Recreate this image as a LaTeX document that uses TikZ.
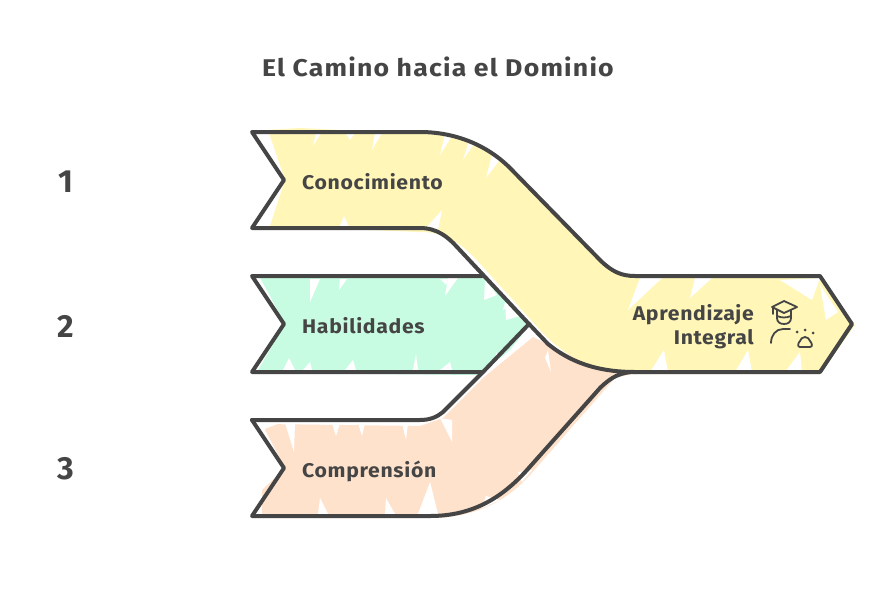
\documentclass[tikz,border=0pt]{standalone}
\usepackage{fontspec}
\setmainfont{Fira Sans}
\newfontfamily\handfont[FakeStretch=1.07,LetterSpace=3.5]{Fira Sans}
\newfontfamily\titlefont[FakeStretch=1.1,LetterSpace=5]{Fira Sans}
\definecolor{ink}{HTML}{454545}
\definecolor{yel}{HTML}{FFF6B8}
\definecolor{grn}{HTML}{C8FCE2}
\definecolor{pch}{HTML}{FFE2CC}
\tikzset{
 outline/.style={draw=ink,line width=4pt,line join=round,line cap=round},
 iconline/.style={draw=ink,line width=1.8pt,line join=round,line cap=round},
 lab/.style={text=ink,font=\handfont\bfseries\fontsize{19.8}{24}\selectfont,inner sep=0pt,anchor=west},
 num/.style={text=ink,font=\bfseries\fontsize{32}{32}\selectfont,inner sep=0pt},
}
\begin{document}
\begin{tikzpicture}[x=1pt,y=-1pt]
\useasboundingbox[fill=white] (0,0) rectangle (877,600);
% hachure-like fills
\fill[pch] (262,424) -- (285,468) -- (262,490) -- (262,516) -- (430,518) .. controls (480,518) and (510,497) .. (530,475) -- (600,395) -- (615,378) -- (640,372) -- (600,365) .. controls (570,358) and (550,345) .. (533,337) -- (483,378) -- (443,418) -- (420,426) -- cycle;
\fill[grn] (258,274) -- (285,324) -- (258,370) -- (258,373) -- (480,375) -- (510,350) -- (529,326) -- (483,277) -- cycle;
\fill[yel] (268,130) -- (300,128) -- (420,134) .. controls (450,134) and (475,140) .. (495,155) -- (600,262) .. controls (612,273) and (622,277) .. (635,278) -- (820,278) -- (855,325) -- (820,374) -- (635,374) .. controls (600,372) and (570,362) .. (540,330) -- (475,258) .. controls (455,238) and (440,232) .. (420,232) -- (270,226) -- (285,180) -- cycle;
% white slivers left by the strokes of the fill
\foreach \a/\b/\c/\d/\e/\f in {
 316/133/313/146/321/133, 375/133/382/133/372/150, 445/134/452/136/440/155,
 470/138/476/141/463/160, 492/155/499/161/486/178, 340/226/350/229/344/216,
 425/229/438/230/442/210, 455/244/460/252/452/258,
 640/278/662/278/628/310, 695/278/712/278/690/298, 780/280/820/278/812/300,
 820/285/838/312/826/320, 650/372/668/372/664/350, 735/372/752/372/748/350,
 785/372/802/372/800/352, 507/295/515/302/503/310, 345/132/355/133/350/140}
 {\fill[white] (\a,\b) -- (\c,\d) -- (\e,\f) -- cycle;}
\foreach \a/\b/\c/\d/\e/\f in {
 310/279/320/279/310/302, 340/279/347/279/339/290, 440/279/448/279/446/285,
 448/278/458/278/445/296, 485/280/497/295/484/300, 505/300/520/316/506/320,
 283/370/295/370/289/358, 303/370/312/370/310/362, 345/370/356/370/353/360,
 413/370/418/370/416/354, 440/370/452/370/450/362, 490/370/500/362/497/352,
 253/288/268/292/268/308}
 {\fill[white] (\a,\b) -- (\c,\d) -- (\e,\f) -- cycle;}
\foreach \a/\b/\c/\d/\e/\f in {
 285/423/295/423/294/452, 332/423/340/423/336/436, 358/423/365/423/362/436,
 402/423/408/423/406/440, 440/418/452/420/452/442, 258/423/280/423/262/430,
 318/514/328/514/320/498, 418/514/438/514/430/482, 385/514/395/514/386/498,
 545/358/548/350/551/372, 520/338/526/338/516/348,
 482/508/500/500/486/496, 522/482/532/470/518/472}
 {\fill[white] (\a,\b) -- (\c,\d) -- (\e,\f) -- cycle;}
% outlines
\draw[outline] (252,420) -- (420,420) .. controls (430,420) and (437,417) .. (443,412) -- (483,372) -- (529,324);
\draw[outline] (482,276) -- (252,276) -- (284,324) -- (252,372) -- (482,372);
\draw[outline] (252,420) -- (284,468) -- (252,516) -- (430,516) .. controls (470,516) and (500,500) .. (527,470) -- (600,388) .. controls (612,376) and (622,372) .. (635,372);
\draw[outline] (635,372) -- (820,372) -- (852,324) -- (820,276) -- (635,276) .. controls (622,276) and (612,272) .. (600,260) -- (510,168) .. controls (487,145) and (455,132) .. (420,132) -- (252,132) -- (284,180) -- (252,228) -- (420,228) .. controls (437,228) and (448,237) .. (457,247) -- (529,324) -- (548,344) .. controls (575,366) and (605,372) .. (635,372);
% icon: graduate
\draw[iconline] (772,307) -- (784,301) -- (797,307) -- (784,313) -- cycle;
\draw[iconline] (773,307) -- (773,314);
\draw[iconline] (777,310) -- (777,318) .. controls (777,322) and (780,324) .. (784,324) .. controls (788,324) and (791,322) .. (791,318) -- (791,310);
\draw[iconline] (777,316) .. controls (782,318) and (786,318) .. (791,316);
\draw[iconline] (771,343) .. controls (771,335) and (776,329) .. (783,329) -- (790,329);
% icon: paw
\fill[ink] (797,332) circle (1.5) (805,330) circle (1.5) (813,333) circle (1.5);
\draw[iconline] (805,337) .. controls (802,337) and (801,339) .. (800,341) .. controls (798,343) and (797,347) .. (800,347) -- (810,347) .. controls (813,347) and (812,343) .. (810,341) .. controls (809,339) and (808,337) .. (805,337) -- cycle;
% texts
\node[text=ink,font=\titlefont\bfseries\fontsize{24.2}{28}\selectfont,inner sep=0pt] (title) at (438,67) {El Camino hacia el Dominio};
\node[num] (n1) at (66,182) {1};
\node[num] (n2) at (66,326) {2};
\node[num] (n3) at (66,469) {3};
\node[lab] (a) at (302,182) {Conocimiento};
\node[lab] (b) at (302,326) {Habilidades};
\node[lab] (c) at (302,471) {Comprensión};
\node[lab,anchor=east,align=right] (d) at (754,327) {Aprendizaje\\Integral};
\end{tikzpicture}
\end{document}
